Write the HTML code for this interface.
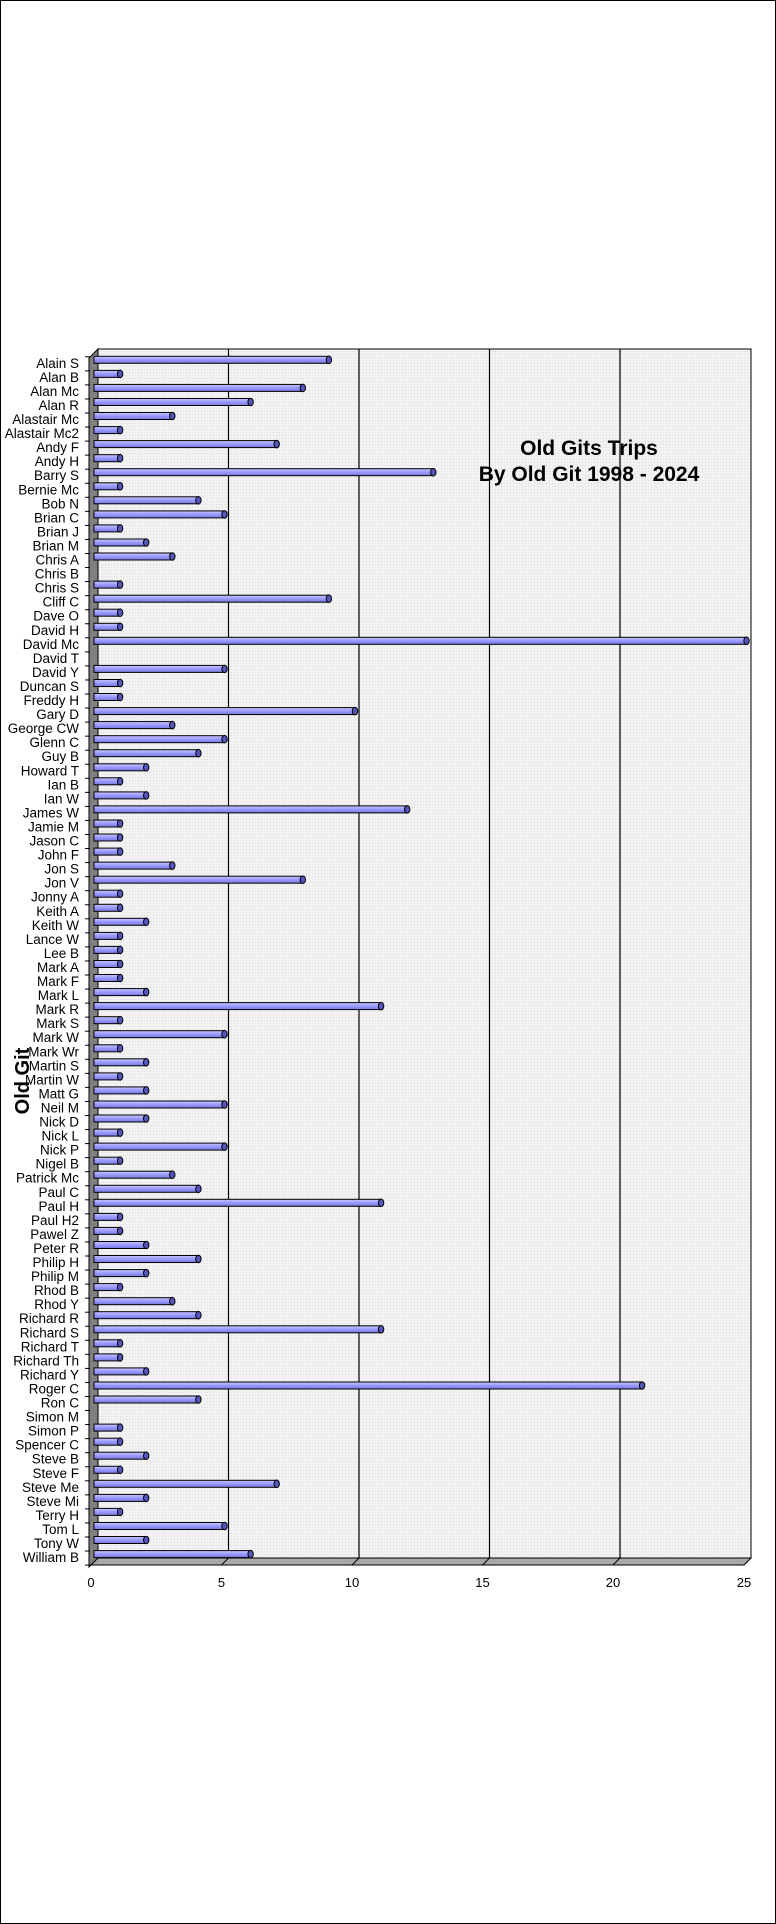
<!DOCTYPE html>
<html><head><meta charset="utf-8"><style>
html,body{margin:0;padding:0;background:#fff}
svg{display:block}
text{font-family:"Liberation Sans",Arial,sans-serif}
.l text{font-size:13.5px;text-anchor:end;fill:#000}
</style></head><body>
<svg width="776" height="1924" viewBox="0 0 776 1924" xmlns="http://www.w3.org/2000/svg">
<defs>
<pattern id="tk" x="0" y="356.3" width="5" height="14.05" patternUnits="userSpaceOnUse"><rect x="0" y="0" width="5" height="1" fill="#000"/></pattern>
<pattern id="dot" width="3" height="3" patternUnits="userSpaceOnUse"><rect width="3" height="3" fill="#f2f2f2"/><rect width="1" height="1" fill="#dcdcdc"/></pattern>
<linearGradient id="bg" x1="0" y1="0" x2="0" y2="1"><stop offset="0" stop-color="#c8c8ff"/><stop offset="0.5" stop-color="#9999ff"/><stop offset="1" stop-color="#7777dd"/></linearGradient>
</defs>
<rect x="0.5" y="0.5" width="775" height="1923" fill="#fff" stroke="#000"/>
<rect x="98" y="349" width="653" height="1209" fill="url(#dot)" stroke="#000" stroke-width="1"/>
<g stroke="#000" stroke-width="1.2">
<line x1="228.5" y1="349" x2="228.5" y2="1558"/><line x1="359" y1="349" x2="359" y2="1558"/><line x1="489.5" y1="349" x2="489.5" y2="1558"/><line x1="620" y1="349" x2="620" y2="1558"/>
</g>
<polygon points="89,358 98,349 98,1558 89,1567" fill="#808080" stroke="#000"/>
<polygon points="91,1565 98,1558 751,1558 744,1565" fill="#a8a8a8" stroke="#000"/>
<g stroke="#000"><line x1="221.5" y1="1565" x2="228.5" y2="1558"/><line x1="352" y1="1565" x2="359" y2="1558"/><line x1="482.5" y1="1565" x2="489.5" y2="1558"/><line x1="613" y1="1565" x2="620" y2="1558"/><line x1="89" y1="1565" x2="744" y2="1565"/></g>
<rect x="85" y="349" width="5" height="1217" fill="url(#tk)"/>
<g font-size="13" text-anchor="middle">
<text x="91" y="1587">0</text><text x="221.5" y="1587">5</text><text x="352" y="1587">10</text><text x="482.5" y="1587">15</text><text x="613" y="1587">20</text><text x="744" y="1587">25</text>
</g>
<text x="589" y="455" font-size="21" font-weight="bold" text-anchor="middle">Old Gits Trips</text>
<text x="589" y="481" font-size="21" font-weight="bold" text-anchor="middle">By Old Git 1998 - 2024</text>
<text transform="translate(29,1081) rotate(-90)" font-size="20" font-weight="bold" text-anchor="middle">Old Git</text>
<defs>
<g id="b1"><rect x="94" y="-7" width="26.1" height="7" fill="url(#bg)" stroke="#000"/><ellipse cx="120.1" cy="-3.5" rx="2.7" ry="3.8" fill="#5555bb" stroke="#000"/></g>
<g id="b2"><rect x="94" y="-7" width="52.2" height="7" fill="url(#bg)" stroke="#000"/><ellipse cx="146.2" cy="-3.5" rx="2.7" ry="3.8" fill="#5555bb" stroke="#000"/></g>
<g id="b3"><rect x="94" y="-7" width="78.3" height="7" fill="url(#bg)" stroke="#000"/><ellipse cx="172.3" cy="-3.5" rx="2.7" ry="3.8" fill="#5555bb" stroke="#000"/></g>
<g id="b4"><rect x="94" y="-7" width="104.4" height="7" fill="url(#bg)" stroke="#000"/><ellipse cx="198.4" cy="-3.5" rx="2.7" ry="3.8" fill="#5555bb" stroke="#000"/></g>
<g id="b5"><rect x="94" y="-7" width="130.5" height="7" fill="url(#bg)" stroke="#000"/><ellipse cx="224.5" cy="-3.5" rx="2.7" ry="3.8" fill="#5555bb" stroke="#000"/></g>
<g id="b6"><rect x="94" y="-7" width="156.6" height="7" fill="url(#bg)" stroke="#000"/><ellipse cx="250.6" cy="-3.5" rx="2.7" ry="3.8" fill="#5555bb" stroke="#000"/></g>
<g id="b7"><rect x="94" y="-7" width="182.7" height="7" fill="url(#bg)" stroke="#000"/><ellipse cx="276.7" cy="-3.5" rx="2.7" ry="3.8" fill="#5555bb" stroke="#000"/></g>
<g id="b8"><rect x="94" y="-7" width="208.8" height="7" fill="url(#bg)" stroke="#000"/><ellipse cx="302.8" cy="-3.5" rx="2.7" ry="3.8" fill="#5555bb" stroke="#000"/></g>
<g id="b9"><rect x="94" y="-7" width="234.9" height="7" fill="url(#bg)" stroke="#000"/><ellipse cx="328.9" cy="-3.5" rx="2.7" ry="3.8" fill="#5555bb" stroke="#000"/></g>
<g id="b10"><rect x="94" y="-7" width="261" height="7" fill="url(#bg)" stroke="#000"/><ellipse cx="355" cy="-3.5" rx="2.7" ry="3.8" fill="#5555bb" stroke="#000"/></g>
<g id="b11"><rect x="94" y="-7" width="287.1" height="7" fill="url(#bg)" stroke="#000"/><ellipse cx="381.1" cy="-3.5" rx="2.7" ry="3.8" fill="#5555bb" stroke="#000"/></g>
<g id="b12"><rect x="94" y="-7" width="313.2" height="7" fill="url(#bg)" stroke="#000"/><ellipse cx="407.2" cy="-3.5" rx="2.7" ry="3.8" fill="#5555bb" stroke="#000"/></g>
<g id="b13"><rect x="94" y="-7" width="339.3" height="7" fill="url(#bg)" stroke="#000"/><ellipse cx="433.3" cy="-3.5" rx="2.7" ry="3.8" fill="#5555bb" stroke="#000"/></g>
<g id="b21"><rect x="94" y="-7" width="548.1" height="7" fill="url(#bg)" stroke="#000"/><ellipse cx="642.1" cy="-3.5" rx="2.7" ry="3.8" fill="#5555bb" stroke="#000"/></g>
<g id="b25"><rect x="94" y="-7" width="652.5" height="7" fill="url(#bg)" stroke="#000"/><ellipse cx="746.5" cy="-3.5" rx="2.7" ry="3.8" fill="#5555bb" stroke="#000"/></g>
</defs>
<g class="l">
<g transform="translate(0,363.3)"><text x="79" y="4.5">Alain S</text><use href="#b9"/></g>
<g transform="translate(0,377.4)"><text x="79" y="4.5">Alan B</text><use href="#b1"/></g>
<g transform="translate(0,391.4)"><text x="79" y="4.5">Alan Mc</text><use href="#b8"/></g>
<g transform="translate(0,405.5)"><text x="79" y="4.5">Alan R</text><use href="#b6"/></g>
<g transform="translate(0,419.5)"><text x="79" y="4.5">Alastair Mc</text><use href="#b3"/></g>
<g transform="translate(0,433.6)"><text x="79" y="4.5">Alastair Mc2</text><use href="#b1"/></g>
<g transform="translate(0,447.6)"><text x="79" y="4.5">Andy F</text><use href="#b7"/></g>
<g transform="translate(0,461.7)"><text x="79" y="4.5">Andy H</text><use href="#b1"/></g>
<g transform="translate(0,475.7)"><text x="79" y="4.5">Barry S</text><use href="#b13"/></g>
<g transform="translate(0,489.8)"><text x="79" y="4.5">Bernie Mc</text><use href="#b1"/></g>
<g transform="translate(0,503.8)"><text x="79" y="4.5">Bob N</text><use href="#b4"/></g>
<g transform="translate(0,517.9)"><text x="79" y="4.5">Brian C</text><use href="#b5"/></g>
<g transform="translate(0,531.9)"><text x="79" y="4.5">Brian J</text><use href="#b1"/></g>
<g transform="translate(0,546.0)"><text x="79" y="4.5">Brian M</text><use href="#b2"/></g>
<g transform="translate(0,560.0)"><text x="79" y="4.5">Chris A</text><use href="#b3"/></g>
<g transform="translate(0,574.1)"><text x="79" y="4.5">Chris B</text></g>
<g transform="translate(0,588.1)"><text x="79" y="4.5">Chris S</text><use href="#b1"/></g>
<g transform="translate(0,602.2)"><text x="79" y="4.5">Cliff C</text><use href="#b9"/></g>
<g transform="translate(0,616.2)"><text x="79" y="4.5">Dave O</text><use href="#b1"/></g>
<g transform="translate(0,630.3)"><text x="79" y="4.5">David H</text><use href="#b1"/></g>
<g transform="translate(0,644.3)"><text x="79" y="4.5">David Mc</text><use href="#b25"/></g>
<g transform="translate(0,658.4)"><text x="79" y="4.5">David T</text></g>
<g transform="translate(0,672.4)"><text x="79" y="4.5">David Y</text><use href="#b5"/></g>
<g transform="translate(0,686.5)"><text x="79" y="4.5">Duncan S</text><use href="#b1"/></g>
<g transform="translate(0,700.5)"><text x="79" y="4.5">Freddy H</text><use href="#b1"/></g>
<g transform="translate(0,714.6)"><text x="79" y="4.5">Gary D</text><use href="#b10"/></g>
<g transform="translate(0,728.6)"><text x="79" y="4.5">George CW</text><use href="#b3"/></g>
<g transform="translate(0,742.7)"><text x="79" y="4.5">Glenn C</text><use href="#b5"/></g>
<g transform="translate(0,756.7)"><text x="79" y="4.5">Guy B</text><use href="#b4"/></g>
<g transform="translate(0,770.8)"><text x="79" y="4.5">Howard T</text><use href="#b2"/></g>
<g transform="translate(0,784.8)"><text x="79" y="4.5">Ian B</text><use href="#b1"/></g>
<g transform="translate(0,798.9)"><text x="79" y="4.5">Ian W</text><use href="#b2"/></g>
<g transform="translate(0,812.9)"><text x="79" y="4.5">James W</text><use href="#b12"/></g>
<g transform="translate(0,827.0)"><text x="79" y="4.5">Jamie M</text><use href="#b1"/></g>
<g transform="translate(0,841.0)"><text x="79" y="4.5">Jason C</text><use href="#b1"/></g>
<g transform="translate(0,855.1)"><text x="79" y="4.5">John F</text><use href="#b1"/></g>
<g transform="translate(0,869.1)"><text x="79" y="4.5">Jon S</text><use href="#b3"/></g>
<g transform="translate(0,883.2)"><text x="79" y="4.5">Jon V</text><use href="#b8"/></g>
<g transform="translate(0,897.2)"><text x="79" y="4.5">Jonny A</text><use href="#b1"/></g>
<g transform="translate(0,911.3)"><text x="79" y="4.5">Keith A</text><use href="#b1"/></g>
<g transform="translate(0,925.3)"><text x="79" y="4.5">Keith W</text><use href="#b2"/></g>
<g transform="translate(0,939.4)"><text x="79" y="4.5">Lance W</text><use href="#b1"/></g>
<g transform="translate(0,953.4)"><text x="79" y="4.5">Lee B</text><use href="#b1"/></g>
<g transform="translate(0,967.5)"><text x="79" y="4.5">Mark A</text><use href="#b1"/></g>
<g transform="translate(0,981.5)"><text x="79" y="4.5">Mark F</text><use href="#b1"/></g>
<g transform="translate(0,995.6)"><text x="79" y="4.5">Mark L</text><use href="#b2"/></g>
<g transform="translate(0,1009.6)"><text x="79" y="4.5">Mark R</text><use href="#b11"/></g>
<g transform="translate(0,1023.7)"><text x="79" y="4.5">Mark S</text><use href="#b1"/></g>
<g transform="translate(0,1037.7)"><text x="79" y="4.5">Mark W</text><use href="#b5"/></g>
<g transform="translate(0,1051.8)"><text x="79" y="4.5">Mark Wr</text><use href="#b1"/></g>
<g transform="translate(0,1065.8)"><text x="79" y="4.5">Martin S</text><use href="#b2"/></g>
<g transform="translate(0,1079.9)"><text x="79" y="4.5">Martin W</text><use href="#b1"/></g>
<g transform="translate(0,1093.9)"><text x="79" y="4.5">Matt G</text><use href="#b2"/></g>
<g transform="translate(0,1108.0)"><text x="79" y="4.5">Neil M</text><use href="#b5"/></g>
<g transform="translate(0,1122.0)"><text x="79" y="4.5">Nick D</text><use href="#b2"/></g>
<g transform="translate(0,1136.1)"><text x="79" y="4.5">Nick L</text><use href="#b1"/></g>
<g transform="translate(0,1150.1)"><text x="79" y="4.5">Nick P</text><use href="#b5"/></g>
<g transform="translate(0,1164.2)"><text x="79" y="4.5">Nigel B</text><use href="#b1"/></g>
<g transform="translate(0,1178.2)"><text x="79" y="4.5">Patrick Mc</text><use href="#b3"/></g>
<g transform="translate(0,1192.3)"><text x="79" y="4.5">Paul C</text><use href="#b4"/></g>
<g transform="translate(0,1206.3)"><text x="79" y="4.5">Paul H</text><use href="#b11"/></g>
<g transform="translate(0,1220.4)"><text x="79" y="4.5">Paul H2</text><use href="#b1"/></g>
<g transform="translate(0,1234.4)"><text x="79" y="4.5">Pawel Z</text><use href="#b1"/></g>
<g transform="translate(0,1248.5)"><text x="79" y="4.5">Peter R</text><use href="#b2"/></g>
<g transform="translate(0,1262.5)"><text x="79" y="4.5">Philip H</text><use href="#b4"/></g>
<g transform="translate(0,1276.6)"><text x="79" y="4.5">Philip M</text><use href="#b2"/></g>
<g transform="translate(0,1290.6)"><text x="79" y="4.5">Rhod B</text><use href="#b1"/></g>
<g transform="translate(0,1304.7)"><text x="79" y="4.5">Rhod Y</text><use href="#b3"/></g>
<g transform="translate(0,1318.7)"><text x="79" y="4.5">Richard R</text><use href="#b4"/></g>
<g transform="translate(0,1332.8)"><text x="79" y="4.5">Richard S</text><use href="#b11"/></g>
<g transform="translate(0,1346.8)"><text x="79" y="4.5">Richard T</text><use href="#b1"/></g>
<g transform="translate(0,1360.9)"><text x="79" y="4.5">Richard Th</text><use href="#b1"/></g>
<g transform="translate(0,1374.9)"><text x="79" y="4.5">Richard Y</text><use href="#b2"/></g>
<g transform="translate(0,1389.0)"><text x="79" y="4.5">Roger C</text><use href="#b21"/></g>
<g transform="translate(0,1403.0)"><text x="79" y="4.5">Ron C</text><use href="#b4"/></g>
<g transform="translate(0,1417.1)"><text x="79" y="4.5">Simon M</text></g>
<g transform="translate(0,1431.1)"><text x="79" y="4.5">Simon P</text><use href="#b1"/></g>
<g transform="translate(0,1445.2)"><text x="79" y="4.5">Spencer C</text><use href="#b1"/></g>
<g transform="translate(0,1459.2)"><text x="79" y="4.5">Steve B</text><use href="#b2"/></g>
<g transform="translate(0,1473.3)"><text x="79" y="4.5">Steve F</text><use href="#b1"/></g>
<g transform="translate(0,1487.3)"><text x="79" y="4.5">Steve Me</text><use href="#b7"/></g>
<g transform="translate(0,1501.4)"><text x="79" y="4.5">Steve Mi</text><use href="#b2"/></g>
<g transform="translate(0,1515.4)"><text x="79" y="4.5">Terry H</text><use href="#b1"/></g>
<g transform="translate(0,1529.5)"><text x="79" y="4.5">Tom L</text><use href="#b5"/></g>
<g transform="translate(0,1543.5)"><text x="79" y="4.5">Tony W</text><use href="#b2"/></g>
<g transform="translate(0,1557.6)"><text x="79" y="4.5">William B</text><use href="#b6"/></g>
</g>
</svg>
</body></html>
